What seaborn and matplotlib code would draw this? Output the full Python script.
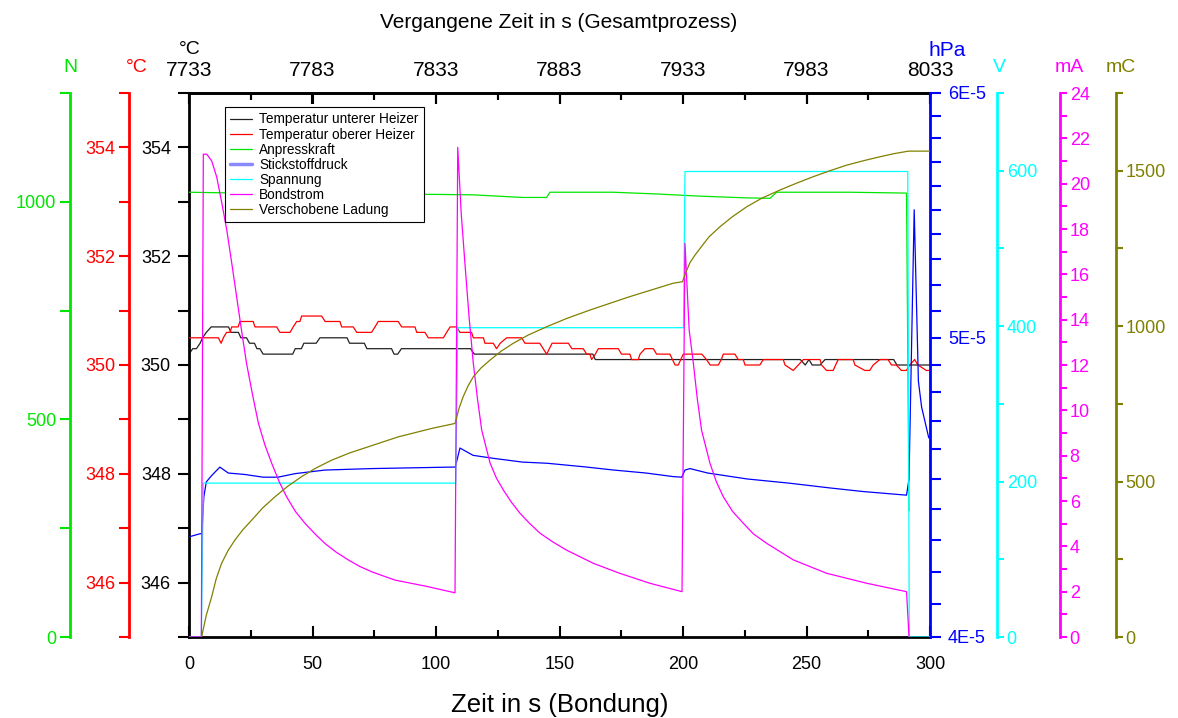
import numpy as np
import pandas as pd
import matplotlib
matplotlib.use("Agg")
import matplotlib.pyplot as plt
import seaborn as sns
from matplotlib.ticker import FixedLocator, NullFormatter
from matplotlib.lines import Line2D

# ---------------- data ----------------
t_black = [0, 1.5, 3, 4.5, 5.5, 7, 9, 16, 17, 20, 21, 23.3, 24.5, 26.5, 27.5, 28.7, 30, 42, 43, 45.5,
           46.5, 51.5, 53, 64, 65, 71, 72, 82, 83, 84.5, 86, 114, 115.5, 163.5, 164.5, 247.5, 249.5,
           251, 252.3, 255.5, 257.5, 285.3, 286.6, 300]
T_black = [350.2, 350.3, 350.3, 350.4, 350.5, 350.6, 350.7, 350.7, 350.6, 350.6, 350.5, 350.5, 350.4,
           350.4, 350.3, 350.3, 350.2, 350.2, 350.3, 350.3, 350.4, 350.4, 350.5, 350.5, 350.4, 350.4,
           350.3, 350.3, 350.2, 350.2, 350.3, 350.3, 350.2, 350.2, 350.1, 350.1, 350.0, 350.1, 350.0,
           350.0, 350.1, 350.1, 350.0, 350.0]

t_red = [0, 11.9, 13, 13.9, 15.2, 16.6, 17.3, 19.9, 20.6, 26, 26.7, 35.5, 36.8, 40.9, 42.2, 43.6, 44.9,
         45.6, 53.7, 55.1, 61.1, 61.8, 66.5, 67.9, 73.9, 75.3, 76.6, 84.7, 86.1, 91.5, 92.2, 95.5, 96.9,
         103, 104.3, 105.7, 108.4, 109.7, 114.4, 115.1, 119.2, 119.8, 123.2, 124.5, 126, 128.6, 134.7,
         136, 142, 144.8, 147, 153.6, 155, 159.6, 161, 162.3, 163, 164.5, 165.7, 173.8, 175.1, 178.5,
         179.2, 181.9, 182.6, 184.6, 188, 189.3, 194.7, 196.8, 198.1, 200.1, 207.6, 209.5, 211, 214.3,
         215.5, 216.3, 221, 222.4, 224.4, 225.1, 231.1, 232.5, 240.6, 241.3, 244.6, 246.7, 248.7, 255.5,
         256.1, 258.1, 260.8, 262.8, 268.9, 269.6, 273.6, 275.6, 277, 279.7, 283, 284.4, 286.4, 288.4,
         290.4, 291.8, 293.8, 295.1, 298.5, 300]
T_red = [350.5, 350.5, 350.4, 350.5, 350.6, 350.6, 350.7, 350.7, 350.8, 350.8, 350.7, 350.7, 350.6,
         350.6, 350.7, 350.8, 350.8, 350.9, 350.9, 350.8, 350.8, 350.7, 350.7, 350.6, 350.6, 350.7,
         350.8, 350.8, 350.7, 350.7, 350.6, 350.6, 350.5, 350.5, 350.6, 350.7, 350.7, 350.6, 350.6,
         350.5, 350.5, 350.4, 350.4, 350.3, 350.4, 350.5, 350.5, 350.4, 350.4, 350.2, 350.4, 350.4,
         350.3, 350.3, 350.2, 350.2, 350.1, 350.2, 350.3, 350.3, 350.2, 350.2, 350.1, 350.1, 350.2,
         350.3, 350.3, 350.2, 350.2, 350.0, 350.0, 350.2, 350.2, 350.1, 350.0, 350.0, 350.1, 350.2,
         350.2, 350.1, 350.1, 350.0, 350.0, 350.1, 350.1, 350.0, 349.9, 350.0, 350.1, 350.1, 350.0,
         349.9, 349.9, 350.1, 350.1, 350.0, 349.9, 349.9, 350.0, 350.1, 350.1, 350.0, 350.0, 349.9,
         349.9, 350.0, 350.1, 350.0, 349.9, 349.9]

t_green = [0, 10, 30, 60, 100, 115, 135, 144.8, 146.1, 171.7, 189.3, 206.9, 225.8, 235.2, 237.9, 267.6,
           290.5, 291.5]
F_green = [1022, 1021, 1019, 1018, 1017, 1016, 1010, 1010, 1022, 1022, 1018, 1013, 1009, 1008, 1022,
           1022, 1020, 290]

t_blue = [0, 4.5, 5.2, 6.0, 7.0, 9, 12.5, 15.9, 22.7, 30, 36, 43, 55, 74, 106, 107.8, 109.7, 115, 123,
          135, 145, 160, 172, 185, 196, 199.5, 200.8, 202.8, 210, 226, 243, 259.5, 273, 290.5, 291.5,
          293.6, 295.3, 296.6, 299.5]
P_blue = [4.31e-5, 4.32e-5, 4.32e-5, 4.44e-5, 4.49e-5, 4.51e-5, 4.54e-5, 4.52e-5, 4.515e-5, 4.506e-5,
          4.506e-5, 4.518e-5, 4.53e-5, 4.535e-5, 4.54e-5, 4.54e-5, 4.605e-5, 4.58e-5, 4.57e-5,
          4.557e-5, 4.553e-5, 4.541e-5, 4.53e-5, 4.52e-5, 4.508e-5, 4.506e-5, 4.53e-5, 4.535e-5,
          4.52e-5, 4.50e-5, 4.486e-5, 4.47e-5, 4.458e-5, 4.446e-5, 4.50e-5, 5.50e-5, 4.84e-5,
          4.748e-5, 4.64e-5]

t_cyan = [0, 5.0, 5.8, 108.0, 108.8, 200.2, 200.8, 291.0, 291.6, 300]
V_cyan = [0, 0, 198, 198, 398, 398, 599, 599, 0, 0]

t_mag = [0, 5.0, 5.8, 7.2, 9.2, 11.2, 13.2, 15.3, 17.3, 19.3, 21.3, 23.3, 25.7, 28.1, 30.8, 33.5, 36.5,
         39.5, 43, 47, 51, 55, 59.5, 64.5, 69, 73.9, 83.4, 95.5,
         107.7, 108.8, 110.2, 111.7, 113.4, 115.1, 116.8, 118.5, 121.9, 124.5, 127.3, 130.5, 134,
         138, 142.1, 147.5, 152.9, 163.7, 174.4, 186.6, 199.6,
         200.8, 202.5, 204.2, 205.8, 207.5, 210.9, 213.5, 216.3, 220, 224.4, 228.5, 233.9, 244.7,
         258.2, 274.4, 290.5, 291.5]
I_mag = [0, 0, 21.3, 21.3, 21.0, 20.3, 19.2, 17.95, 16.5, 15.0, 13.5, 12.07, 10.7, 9.43, 8.45, 7.66,
         6.85, 6.19, 5.55, 5.01, 4.55, 4.13, 3.75, 3.40, 3.12, 2.88, 2.51, 2.25,
         1.95, 21.6, 18.7, 16.5, 14.1, 12.08, 10.5, 9.13, 7.67, 7.0, 6.48, 5.95, 5.46,
         5.0, 4.58, 4.18, 3.83, 3.25, 2.81, 2.37, 2.0,
         17.37, 13.54, 12.07, 10.5, 9.13, 7.67, 6.85, 6.19, 5.55, 5.02, 4.55, 4.13, 3.40,
         2.81, 2.37, 2.0, 0]

t_olive = [5.1, 7.0, 9.2, 11.0, 13.2, 15.8, 18.6, 21.8, 25.4, 29.8, 34.8, 40, 45.6, 51.5, 57.8, 65,
           72.6, 84.8, 98.3, 107.7, 109.3, 111, 113, 115.1, 118.3, 121.9, 126.3, 131.3, 137.5, 144.8,
           153, 162.4, 178.5, 196, 199.8, 201, 202.8, 204.8, 206.9, 210.5, 215, 220, 225.8, 232,
           239.3, 246, 252.8, 259.5, 266.3, 273, 279.8, 285.5, 291.3, 300]
Q_olive = [0, 70, 130, 187, 237, 278, 312, 345, 376, 415, 451, 485, 516, 544, 569, 592,
           612, 644, 671, 687, 735, 773, 808, 837, 866, 891, 919, 945, 972, 998,
           1025, 1052, 1095, 1138, 1143, 1170, 1204, 1228, 1250, 1287, 1320, 1352, 1384, 1412,
           1438, 1460, 1481, 1500, 1518, 1532, 1545, 1555, 1563, 1563]

series_names = ["Temperatur unterer Heizer", "Temperatur oberer Heizer", "Anpresskraft",
                "Stickstoffdruck", "Spannung", "Bondstrom", "Verschobene Ladung"]
bottom_ticks = [0, 50, 100, 150, 200, 250, 300]
top_ticks = [7733, 7783, 7833, 7883, 7933, 7983, 8033]

# ---------------- styling ----------------
sns.set_theme(style="white")
plt.rcParams['font.family'] = ['Liberation Sans', 'DejaVu Sans']
plt.rcParams.update({'text.color': 'black', 'axes.labelcolor': 'black',
                     'xtick.color': 'black', 'ytick.color': 'black'})

C_BLACK, C_RED, C_GREEN = '#000000', '#ff0000', '#00e600'
C_BLUE, C_CYAN, C_MAG, C_OLIVE = '#0000ff', '#00ffff', '#ff00ff', '#808000'
LW = 0.9
SPW = 2.0
TLS = 13  # tick label size

W, H = 1178, 718
fig = plt.figure(figsize=(W / 100, H / 100), dpi=100)
L, R, T, B = 189, 930, 93, 637
ax = fig.add_axes([L / W, (H - B) / H, (R - L) / W, (B - T) / H])
ax.set_xlim(0, 300)


def line(a, x, y, c, lw=LW):
    df = pd.DataFrame({"x": x, "y": y})
    sns.lineplot(data=df, x="x", y="y", ax=a, color=c, lw=lw, sort=False, estimator=None, legend=False)
    a.set_xlabel("")
    a.set_ylabel("")


def style_axis(a, side, pos, color, lim, majors, minors, labels, ticklen=8, pad=5):
    a.set_ylim(*lim)
    for s in ['left', 'right', 'top', 'bottom']:
        a.spines[s].set_visible(False)
    a.spines[side].set_visible(True)
    a.spines[side].set_color(color)
    a.spines[side].set_linewidth(SPW)
    if pos is not None:
        a.spines[side].set_position(('axes', pos))
    a.yaxis.set_ticks_position(side)
    a.yaxis.set_major_locator(FixedLocator(majors))
    a.set_yticklabels(labels)
    a.yaxis.set_minor_locator(FixedLocator(minors))
    a.yaxis.set_minor_formatter(NullFormatter())
    a.tick_params(axis='y', which='major', direction='out', length=ticklen, width=1.5,
                  color=color, labelcolor=color, labelsize=TLS, pad=pad)
    a.tick_params(axis='y', which='minor', direction='out', length=ticklen, width=1.5, color=color)
    a.grid(False)


# main axis: black temperature
line(ax, t_black, T_black, '#222222')
style_axis(ax, 'left', None, C_BLACK, (345, 355), [346, 348, 350, 352, 354],
           [345, 347, 349, 351, 353, 355], ['346', '348', '350', '352', '354'], pad=5)
for s in ['top', 'bottom']:
    ax.spines[s].set_visible(True)
    ax.spines[s].set_color('black')
    ax.spines[s].set_linewidth(SPW)
ax.xaxis.set_major_locator(FixedLocator(bottom_ticks))
ax.xaxis.set_minor_locator(FixedLocator([25, 75, 125, 175, 225, 275]))
ax.tick_params(axis='x', which='both', direction='in', bottom=True, top=True, color='black',
               labelcolor='black', width=1.5)
ax.tick_params(axis='x', which='major', length=8, labelsize=TLS, pad=14)
ax.tick_params(axis='x', which='minor', length=5)
ax.set_xlabel("Zeit in s (Bondung)", fontsize=18.5, labelpad=14, color='black')

sec = ax.secondary_xaxis('top', functions=(lambda t: t + 7733, lambda v: v - 7733))
sec.xaxis.set_major_locator(FixedLocator(top_ticks))
sec.xaxis.set_minor_locator(FixedLocator([v + 25 for v in top_ticks[:-1]]))
sec.tick_params(axis='x', which='both', direction='in', color='black', labelcolor='black', width=1.5)
sec.tick_params(axis='x', which='major', length=8, labelsize=15, pad=9)
sec.tick_params(axis='x', which='minor', length=5)
sec.spines['top'].set_linewidth(SPW)

# red temperature
ax_r = ax.twinx()
line(ax_r, t_red, T_red, C_RED)
style_axis(ax_r, 'left', (129 - L) / (R - L), C_RED, (345, 355), [346, 348, 350, 352, 354],
           [345, 347, 349, 351, 353, 355], ['346', '348', '350', '352', '354'], ticklen=7, pad=3)

# green force
ax_g = ax.twinx()
line(ax_g, t_green, F_green, C_GREEN)
style_axis(ax_g, 'left', (70 - L) / (R - L), C_GREEN, (0, 1250), [0, 500, 1000], [250, 750, 1250],
           ['0', '500', '1000'], ticklen=7, pad=3)

# blue pressure (log)
ax_b = ax.twinx()
ax_b.set_yscale('log')
line(ax_b, t_blue, P_blue, C_BLUE)
style_axis(ax_b, 'right', 1.0, C_BLUE, (4e-5, 6e-5), [4e-5, 5e-5, 6e-5],
           [v * 1e-6 for v in list(range(41, 50)) + list(range(51, 60))], ['4E-5', '5E-5', '6E-5'])

# cyan voltage
ax_c = ax.twinx()
line(ax_c, t_cyan, V_cyan, C_CYAN)
style_axis(ax_c, 'right', (997 - L) / (R - L), C_CYAN, (0, 700), [0, 200, 400, 600],
           [100, 300, 500, 700], ['0', '200', '400', '600'], ticklen=5, pad=2)

# magenta current
ax_m = ax.twinx()
line(ax_m, t_mag, I_mag, C_MAG)
style_axis(ax_m, 'right', (1060 - L) / (R - L), C_MAG, (0, 24), list(range(0, 25, 2)),
           list(range(1, 24, 2)), [str(v) for v in range(0, 25, 2)], ticklen=5, pad=2)

# olive charge
ax_o = ax.twinx()
line(ax_o, t_olive, Q_olive, C_OLIVE)
style_axis(ax_o, 'right', (1116 - L) / (R - L), C_OLIVE, (0, 1750), [0, 500, 1000, 1500],
           [250, 750, 1250, 1750], ['0', '500', '1000', '1500'], ticklen=5, pad=2)

# legend
handles = [Line2D([], [], color='#222222', lw=LW), Line2D([], [], color=C_RED, lw=LW),
           Line2D([], [], color=C_GREEN, lw=LW), Line2D([], [], color='#8888ff', lw=2.5),
           Line2D([], [], color=C_CYAN, lw=LW), Line2D([], [], color=C_MAG, lw=LW),
           Line2D([], [], color=C_OLIVE, lw=LW)]
leg = ax_o.legend(handles, series_names, loc='upper left',
                  bbox_to_anchor=((225 - L) / (R - L), (B - 107) / (B - T)), borderaxespad=0,
                  fontsize=9.8, frameon=True, fancybox=False, edgecolor='black', framealpha=1,
                  handlelength=1.6, labelspacing=0.08, borderpad=0.4, handletextpad=0.5)
leg.get_frame().set_linewidth(0.8)
leg.set_zorder(50)
for txt in leg.get_texts():
    txt.set_color('black')

# unit labels and top title
def ftext(x, y, s, c, size=14):
    fig.text(x / W, (H - y) / H, s, color=c, fontsize=size, ha='center', va='center')

ftext(70, 67, "N", C_GREEN)
ftext(137, 67, "°C", C_RED)
ftext(190, 50, "°C", C_BLACK)
ftext(947, 50, "hPa", C_BLUE, size=15)
ftext(999, 67, "V", C_CYAN)
ftext(1069, 67, "mA", C_MAG)
ftext(1121, 67, "mC", C_OLIVE)
ftext(559, 22, "Vergangene Zeit in s (Gesamtprozess)", C_BLACK, size=15)

fig.savefig("out.png", dpi=100, facecolor='white')
